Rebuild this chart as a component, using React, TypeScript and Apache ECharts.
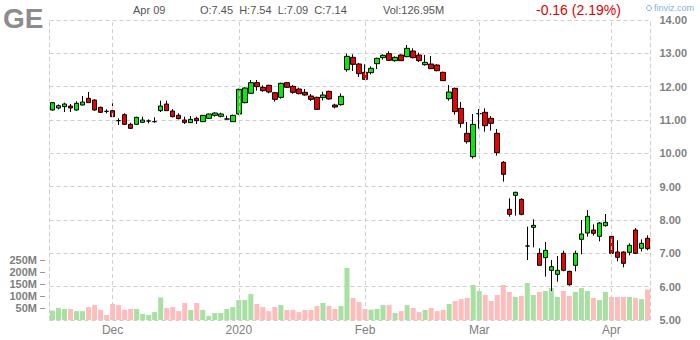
import React, { useEffect, useRef } from 'react';
import * as echarts from 'echarts';

const ticker = 'GE';
const dates = [
  '2019-11-15','2019-11-18','2019-11-19','2019-11-20','2019-11-21','2019-11-22','2019-11-25','2019-11-26','2019-11-27','2019-11-29',
  '2019-12-02','2019-12-03','2019-12-04','2019-12-05','2019-12-06','2019-12-09','2019-12-10','2019-12-11','2019-12-12','2019-12-13',
  '2019-12-16','2019-12-17','2019-12-18','2019-12-19','2019-12-20','2019-12-23','2019-12-24','2019-12-26','2019-12-27','2019-12-30',
  '2019-12-31','2020-01-02','2020-01-03','2020-01-06','2020-01-07','2020-01-08','2020-01-09','2020-01-10','2020-01-13','2020-01-14',
  '2020-01-15','2020-01-16','2020-01-17','2020-01-21','2020-01-22','2020-01-23','2020-01-24','2020-01-27','2020-01-28','2020-01-29',
  '2020-01-30','2020-01-31','2020-02-03','2020-02-04','2020-02-05','2020-02-06','2020-02-07','2020-02-10','2020-02-11','2020-02-12',
  '2020-02-13','2020-02-14','2020-02-18','2020-02-19','2020-02-20','2020-02-21','2020-02-24','2020-02-25','2020-02-26','2020-02-27',
  '2020-02-28','2020-03-02','2020-03-03','2020-03-04','2020-03-05','2020-03-06','2020-03-09','2020-03-10','2020-03-11','2020-03-12',
  '2020-03-13','2020-03-16','2020-03-17','2020-03-18','2020-03-19','2020-03-20','2020-03-23','2020-03-24','2020-03-25','2020-03-26',
  '2020-03-27','2020-03-30','2020-03-31','2020-04-01','2020-04-02','2020-04-03','2020-04-06','2020-04-07','2020-04-08','2020-04-09',
];
const openP = [
  11.30,11.36,11.40,11.42,11.30,11.45,11.65,11.60,11.38,11.26,
  11.28,10.98,11.16,10.87,10.87,10.93,10.97,10.95,11.28,11.48,
  11.27,11.14,11.00,10.92,11.05,10.95,11.05,11.14,11.11,11.03,
  10.95,11.18,11.52,11.80,12.12,11.98,12.04,11.82,11.68,12.12,
  12.01,11.93,11.83,11.72,11.68,11.67,11.86,11.45,11.46,12.51,
  12.88,12.68,12.43,12.42,12.69,12.87,12.99,12.78,12.95,12.90,
  13.07,12.95,12.66,12.68,12.65,12.43,11.64,11.95,11.35,10.60,
  9.90,11.19,11.23,11.05,10.60,9.73,8.32,8.74,8.62,7.22,
  7.78,7.00,6.87,6.49,6.37,7.00,6.46,6.64,7.42,7.61,
  7.70,7.51,7.83,7.51,7.04,7.04,7.03,7.70,7.15,7.45,
];
const highP = [
  11.54,11.47,11.52,11.48,11.56,11.72,11.84,11.62,11.40,11.32,
  11.50,11.05,11.20,10.92,11.10,11.10,11.02,11.08,11.58,11.58,
  11.33,11.20,11.10,11.12,11.10,11.15,11.19,11.23,11.22,11.13,
  11.16,11.94,11.98,12.20,12.20,12.04,12.06,11.84,12.12,12.14,
  12.05,11.97,11.93,11.78,11.70,11.85,11.88,11.49,11.80,12.99,
  12.97,12.71,12.67,12.61,12.87,12.97,13.06,12.91,12.97,13.25,
  13.15,13.02,12.95,12.92,12.67,12.45,12.05,11.97,11.54,10.94,
  11.18,11.33,11.35,11.12,10.73,9.77,8.65,8.85,8.65,7.80,
  8.02,7.15,7.34,6.80,6.92,7.08,6.48,7.08,8.00,8.30,
  7.87,7.94,8.18,7.53,7.39,7.06,7.30,7.76,7.42,7.54,
];
const lowP = [
  11.28,11.32,11.24,11.24,11.28,11.44,11.52,11.28,11.22,11.20,
  11.10,10.85,10.85,10.73,10.85,10.92,10.90,10.92,11.24,11.28,
  11.08,11.02,10.88,10.92,10.88,10.94,11.04,11.10,11.08,11.00,
  10.94,11.16,11.50,11.78,11.88,11.85,11.80,11.55,11.64,11.96,
  11.79,11.77,11.73,11.57,11.30,11.59,11.61,11.35,11.43,12.45,
  12.47,12.29,12.20,12.37,12.53,12.81,12.77,12.75,12.77,12.88,
  12.85,12.74,12.63,12.54,12.46,12.17,11.58,11.16,10.77,10.29,
  9.84,10.74,10.65,10.68,9.93,9.15,8.10,8.13,8.14,6.80,
  7.18,6.64,6.30,5.87,6.15,6.46,6.03,6.46,6.97,7.50,
  7.53,7.36,7.80,6.98,6.76,6.58,6.94,6.98,7.06,7.09,
];
const closeP = [
  11.52,11.43,11.48,11.36,11.50,11.54,11.52,11.30,11.23,11.26,
  11.10,10.98,10.87,10.75,11.08,11.00,10.97,10.95,11.42,11.28,
  11.10,11.04,10.93,11.02,10.98,11.14,11.18,11.21,11.18,11.03,
  11.14,11.92,11.96,12.12,12.00,11.88,11.84,11.62,12.10,11.98,
  11.83,11.79,11.75,11.62,11.32,11.75,11.63,11.39,11.71,12.91,
  12.67,12.39,12.22,12.55,12.85,12.94,12.79,12.88,12.78,13.15,
  12.87,12.78,12.73,12.54,12.48,12.18,11.84,11.25,10.90,10.35,
  10.87,11.19,10.83,10.90,10.02,9.37,8.17,8.83,8.17,7.22,
  7.84,6.64,7.09,6.60,6.49,6.49,6.06,7.00,7.58,8.11,
  7.60,7.91,7.93,7.00,6.88,6.70,7.24,7.00,7.30,7.14,
];
const volumeM = [
  39,50,46,46,37,37,54,62,42,21,
  67,62,43,46,46,25,21,33,94,50,
  54,37,71,42,71,42,17,29,29,46,
  54,83,83,108,67,54,37,54,62,42,
  42,33,42,42,58,71,58,46,58,217,
  92,75,46,43,46,62,62,29,37,62,
  50,33,42,50,37,42,67,79,87,92,
  146,121,104,79,104,146,117,96,100,154,
  104,117,121,133,96,121,100,117,133,121,
  92,83,117,96,96,96,96,92,87,126.95,
];
const dojiUpDates = ['2019-12-10', '2019-12-11', '2019-12-30', '2020-03-02', '2020-03-12'];
const monthTickDates = ['2019-12-02', '2020-01-02', '2020-02-03', '2020-03-02', '2020-04-01'];
const monthTickLabels = ['Dec', '2020', 'Feb', 'Mar', 'Apr'];
const headerDate = 'Apr 09';

const FONT = 'Arial, "Liberation Sans", sans-serif';
const GRID_LINE = '#cfcfcf';

export default function App() {
  const ref = useRef<HTMLDivElement>(null);
  useEffect(() => {
    document.body.style.margin = '0';
    if (!ref.current) return;
    const chart = echarts.init(ref.current, undefined, { renderer: 'svg' });
    const n = dates.length;
    const last = n - 1;
    const change = closeP[last] - closeP[last - 1];
    const pct = (Math.abs(change) / closeP[last - 1]) * 100;
    const candleData = dates.map((_, i) => [openP[i], closeP[i], lowP[i], highP[i]]);
    const volData = dates.map((d, i) => {
      const up = closeP[i] > openP[i] ? true : closeP[i] < openP[i] ? false : dojiUpDates.includes(d);
      return { value: volumeM[i], itemStyle: { color: up ? '#a8dfa3' : '#fdbdbd' } };
    });
    const dash = { color: GRID_LINE, type: [4, 3] as number[], width: 1 };

    chart.setOption({
      animation: false,
      textStyle: { fontFamily: FONT },
      grid: [
        { left: 49.5, width: 601, top: 20, height: 300 },
        { left: 49.5, width: 601, top: 260, height: 60 },
      ],
      xAxis: [
        {
          type: 'category', gridIndex: 0, data: dates, boundaryGap: true,
          axisLine: { show: false }, axisTick: { show: false }, splitLine: { show: false },
          axisLabel: {
            interval: (i: number) => monthTickDates.includes(dates[i]),
            formatter: (v: string) => monthTickLabels[monthTickDates.indexOf(v)] ?? '',
            color: '#808080', fontSize: 12, margin: 4, fontFamily: FONT,
          },
        },
        {
          type: 'category', gridIndex: 1, data: dates, boundaryGap: true,
          axisLine: { show: false }, axisTick: { show: false }, axisLabel: { show: false }, splitLine: { show: false },
        },
      ],
      yAxis: [
        {
          type: 'value', gridIndex: 0, position: 'right', min: 5, max: 14, interval: 1,
          axisLine: { show: true, lineStyle: dash }, axisTick: { show: false },
          splitLine: { show: true, lineStyle: dash },
          axisLabel: { formatter: (v: number) => v.toFixed(2), color: '#7f7f7f', fontWeight: 'bold', fontSize: 11, margin: 9, fontFamily: FONT },
        },
        {
          type: 'value', gridIndex: 0, position: 'left', min: 5, max: 14, interval: 1,
          axisLine: { show: true, lineStyle: dash }, axisTick: { show: false },
          splitLine: { show: false }, axisLabel: { show: false },
        },
        {
          type: 'value', gridIndex: 1, position: 'left', min: 0, max: 250, interval: 50, offset: 4.5,
          axisLine: { show: false }, axisTick: { show: true, length: 5, lineStyle: { color: '#999' } },
          splitLine: { show: false },
          axisLabel: { showMinLabel: false, formatter: (v: number) => `${v}M`, color: '#7f7f7f', fontWeight: 'bold', fontSize: 11, margin: 8, fontFamily: FONT },
        },
      ],
      series: [
        {
          type: 'bar', xAxisIndex: 1, yAxisIndex: 2, data: volData, barWidth: 5, z: 1, silent: true,
        },
        {
          type: 'candlestick', xAxisIndex: 0, yAxisIndex: 0, data: candleData, barWidth: 5, z: 3,
          itemStyle: {
            color: '#00ee00', color0: '#ee0000', borderColor: '#000', borderColor0: '#000',
            borderColorDoji: '#000', borderWidth: 1,
          },
          markLine: {
            silent: true, symbol: ['none', 'none'], animation: false, z: 10,
            data: [
              ...monthTickDates.map((d) => ({ xAxis: d, lineStyle: dash, label: { show: false } })),
              {
                yAxis: closeP[last], lineStyle: { opacity: 0, width: 0 },
                label: {
                  show: true, position: 'end', distance: 7, formatter: closeP[last].toFixed(2),
                  color: '#000', backgroundColor: '#ffff00', fontWeight: 'bold', fontSize: 11,
                  padding: [1, 2, 0, 2], fontFamily: FONT,
                },
              },
            ],
          },
        },
      ],
      graphic: [
        { type: 'text', x: 3, y: 18, style: { text: ticker, fill: '#8c8c8c', font: `bold 28px ${FONT}`, verticalAlign: 'middle' } },
        { type: 'text', x: 133, y: 10, style: { text: headerDate, fill: '#555', font: `11px ${FONT}`, verticalAlign: 'middle' } },
        {
          type: 'text', x: 200, y: 10,
          style: {
            text: `O:${openP[last].toFixed(2)}  H:${highP[last].toFixed(2)}  L:${lowP[last].toFixed(2)}  C:${closeP[last].toFixed(2)}`,
            fill: '#555', font: `11px ${FONT}`, verticalAlign: 'middle',
          },
        },
        { type: 'text', x: 383, y: 10, style: { text: `Vol:${volumeM[last].toFixed(2)}M`, fill: '#555', font: `11px ${FONT}`, verticalAlign: 'middle' } },
        {
          type: 'text', x: 536, y: 10,
          style: { text: `${change < 0 ? '-' : '+'}${Math.abs(change).toFixed(2)} (${pct.toFixed(2)}%)`, fill: '#e00000', font: `14px ${FONT}`, verticalAlign: 'middle' },
        },
        { type: 'circle', shape: { cx: 649, cy: 8, r: 2.5 }, style: { stroke: '#80b4e4', fill: 'none', lineWidth: 1 } },
        { type: 'text', x: 654, y: 8, style: { text: 'finviz.com', fill: '#80b4e4', font: `9px ${FONT}`, verticalAlign: 'middle' } },
      ],
    });
    return () => chart.dispose();
  }, []);
  return <div ref={ref} style={{ width: 700, height: 340 }} />;
}
